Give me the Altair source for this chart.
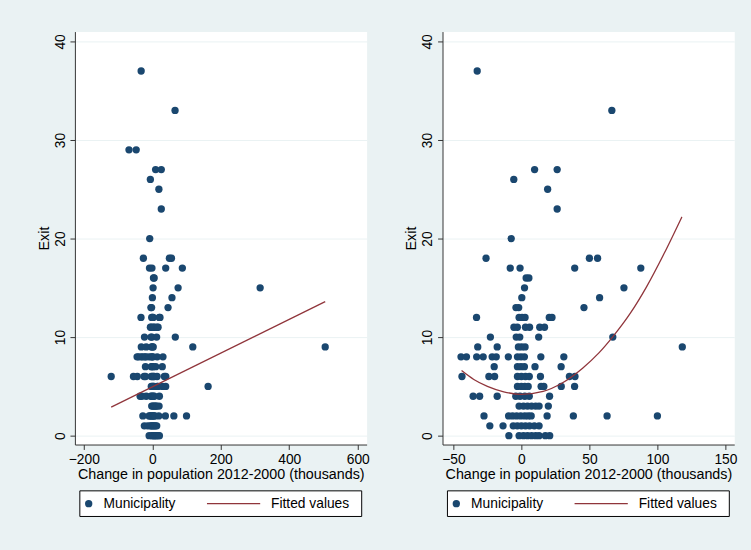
import altair as alt
import pandas as pd

# (change in population 2012-2000 in thousands, exits) — municipalities drawn in both panels
points_both = [
    (-32.5, 37),
    (66.5, 33),
    (9.7, 27), (26.3, 27),
    (-5.6, 26),
    (19.3, 25),
    (26.3, 23),
    (-7.5, 20),
    (-26.0, 18), (50.0, 18), (56.0, 18),
    (-8.2, 17), (-1.0, 17), (39.2, 17), (87.8, 17),
    (3.5, 16), (5.5, 16),
    (2.3, 15), (75.4, 15),
    (0.3, 14), (57.5, 14),
    (-4.0, 13), (-2.0, 13), (46.0, 13),
    (-33.0, 12), (-1.7, 12), (0.5, 12), (2.7, 12), (20.5, 12), (22.5, 12),
    (-5.5, 11), (-3.0, 11), (3.0, 11), (6.0, 11), (13.5, 11), (17.0, 11),
    (-22.8, 10), (-3.8, 10), (-1.2, 10), (12.7, 10), (67.2, 10),
    (-32.1, 9), (-17.8, 9), (-2.2, 9), (0.2, 9), (2.7, 9), (118.3, 9),
    (-44.4, 8), (-40.4, 8), (-32.9, 8), (-28.1, 8), (-21.5, 8), (-18.5, 8),
    (-9.6, 8), (-2.9, 8), (-0.3, 8), (2.2, 8), (14.3, 8), (31.2, 8),
    (-20.0, 7), (-2.9, 7), (-0.3, 7), (2.2, 7), (10.0, 7), (29.2, 7),
    (-43.7, 6), (-23.9, 6), (-19.7, 6), (-2.9, 6), (0.0, 6), (3.0, 6),
    (5.8, 6), (14.0, 6), (35.3, 6), (39.4, 6),
    (-2.9, 5), (0.0, 5), (2.5, 5), (5.0, 5), (14.5, 5), (16.5, 5), (29.3, 5), (39.1, 5),
    (-35.5, 4), (-30.7, 4), (-17.8, 4), (-4.1, 4), (-1.0, 4), (2.5, 4), (5.8, 4), (20.7, 4),
    (-1.7, 3), (1.5, 3), (4.5, 3), (7.5, 3), (10.5, 3), (13.0, 3), (19.8, 3),
    (-27.5, 2), (-9.4, 2), (-6.5, 2), (-3.5, 2), (-0.5, 2), (2.5, 2), (5.0, 2),
    (7.2, 2), (18.9, 2), (38.2, 2), (63.0, 2), (100.0, 2),
    (-23.2, 1), (-13.5, 1), (-6.0, 1), (-3.0, 1), (0.0, 1), (3.0, 1), (6.0, 1), (9.5, 1), (13.0, 1),
    (-9.2, 0), (-1.7, 0), (1.5, 0), (4.5, 0), (7.5, 0), (10.5, 0), (13.0, 0), (17.6, 0), (20.8, 0),
]

# municipalities drawn only in the left panel
points_left_only = [
    (-120.0, 6), (-55.0, 6), (-68.0, 29), (-47.0, 29),
    (163.0, 5), (315.0, 15), (505.0, 9),
]

# fitted values
fit_left_x = [-120.0, 505.0]
fit_left_y = [2.9, 13.6]
fit_right_x = [-44, -35, -25, -13, 0, 16, 30, 45, 57, 67, 80, 92, 105, 118]
fit_right_y = [6.6, 5.7, 5.0, 4.45, 4.2, 4.5, 5.35, 6.85, 8.4, 10.0, 12.4, 15.1, 18.5, 22.2]

left_x_ticks = [-200, 0, 200, 400, 600]
right_x_ticks = [-50, 0, 50, 100, 150]
y_ticks = [0, 10, 20, 30, 40]
legend_labels = ["Municipality", "Fitted values"]
x_title = "Change in population 2012-2000 (thousands)"
y_title = "Exit"

NAVY = "#1a476f"
MAROON = "#90353b"
BG = "#eaf2f3"
FONT = "Liberation Sans"
W, H = 296, 419


def pts_df(pairs):
    return pd.DataFrame(pairs, columns=["change", "exit"])


def make_panel(pts, fit, xdom, xticks):
    x_enc = alt.X(
        "change:Q",
        scale=alt.Scale(domain=xdom, nice=False, zero=False),
        axis=alt.Axis(values=xticks, title=x_title, grid=False, labelFlush=False),
    )
    y_enc = alt.Y(
        "exit:Q",
        scale=alt.Scale(domain=[-0.9, 41.0], nice=False, zero=False),
        axis=alt.Axis(values=y_ticks, title=y_title, grid=True, labelAngle=270,
                      labelAlign="center", labelBaseline="bottom", labelFlush=False),
    )
    scatter = alt.Chart(pts).mark_circle(size=55, color=NAVY, opacity=1).encode(x=x_enc, y=y_enc)
    line = alt.Chart(fit).mark_line(color=MAROON, strokeWidth=1.3, interpolate="monotone").encode(
        x=x_enc, y=y_enc)

    one = pd.DataFrame({"k": [0]})
    box = alt.Chart(one).mark_rect(fill="white", stroke="black", strokeWidth=1).encode(
        x=alt.value(5), x2=alt.value(291), y=alt.value(466), y2=alt.value(492))
    sym = alt.Chart(one).mark_circle(size=55, color=NAVY, opacity=1).encode(
        x=alt.value(14), y=alt.value(479))
    seg = alt.Chart(one).mark_rule(color=MAROON, strokeWidth=1.3).encode(
        x=alt.value(134), x2=alt.value(188), y=alt.value(479))
    t1 = alt.Chart(pd.DataFrame({"label": [legend_labels[0]]})).mark_text(
        align="left", baseline="middle", fontSize=14, font=FONT, color="black").encode(
        x=alt.value(29), y=alt.value(479), text="label:N")
    t2 = alt.Chart(pd.DataFrame({"label": [legend_labels[1]]})).mark_text(
        align="left", baseline="middle", fontSize=14, font=FONT, color="black").encode(
        x=alt.value(199), y=alt.value(479), text="label:N")
    return alt.layer(scatter, line, box, sym, seg, t1, t2).properties(width=W, height=H)


left = make_panel(
    pts_df(points_both + points_left_only),
    pd.DataFrame({"change": fit_left_x, "exit": fit_left_y}),
    [-226, 626], left_x_ticks,
)
right = make_panel(
    pts_df(points_both),
    pd.DataFrame({"change": fit_right_x, "exit": fit_right_y}),
    [-58, 156.5], right_x_ticks,
)

chart = (
    alt.hconcat(left, right, spacing=33)
    .properties(background=BG, padding={"left": 36, "top": 27, "right": 13, "bottom": 31})
    .configure_view(fill="white", stroke="transparent")
    .configure_axis(
        labelFont=FONT, titleFont=FONT, labelFontSize=14, titleFontSize=14.5,
        labelColor="black", titleColor="black", titleFontWeight="normal",
        domainColor="#333333", tickColor="#333333", tickSize=5,
        gridColor=BG, gridWidth=1,
    )
    .configure_axisX(labelPadding=3, titlePadding=1)
    .configure_axisY(labelPadding=3, titlePadding=2)
)

chart.save("out.html", embed_options={"renderer": "svg", "actions": False})
